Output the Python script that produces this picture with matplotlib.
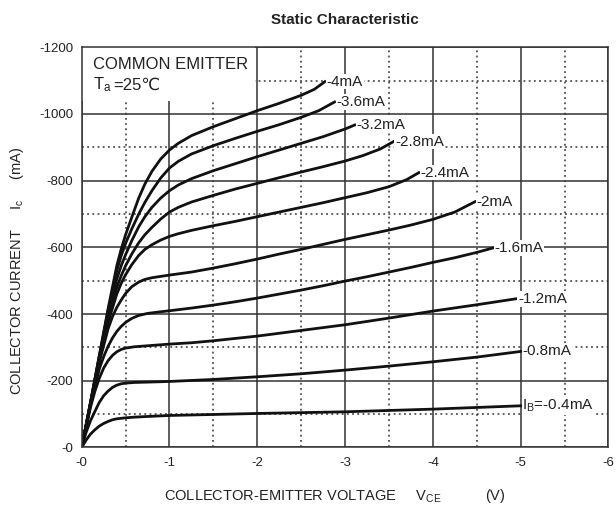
import matplotlib.pyplot as plt
from matplotlib.patches import Rectangle
from matplotlib.ticker import MultipleLocator

plt.rcParams['font.family'] = ['Liberation Sans', 'DejaVu Sans']

# base current labels and curves (V, mA), negative values
ib_labels = ['-4mA', '-3.6mA', '-3.2mA', '-2.8mA', '-2.4mA', '-2mA',
             '-1.6mA', '-1.2mA', '-0.8mA', r'$\mathregular{I_B}$=-0.4mA']

vce_4_0 = [0, -0.1, -0.2, -0.3, -0.4, -0.45, -0.5, -0.57, -0.65, -0.72, -0.8, -0.9, -1.0,
           -1.1, -1.25, -1.5, -1.75, -2.0, -2.25, -2.5, -2.65, -2.77]
ic_4_0 = [0, -135, -275, -415, -545, -595, -638, -690, -748, -790, -828, -865, -892,
          -912, -935, -962, -986, -1010, -1032, -1056, -1074, -1097]

vce_3_6 = [0, -0.1, -0.2, -0.3, -0.4, -0.45, -0.5, -0.57, -0.65, -0.72, -0.8, -0.9, -1.0,
           -1.1, -1.25, -1.5, -1.75, -2.0, -2.25, -2.5, -2.7, -2.88]
ic_3_6 = [0, -134, -272, -410, -530, -575, -612, -655, -700, -735, -770, -808, -838,
          -858, -880, -905, -927, -948, -968, -990, -1010, -1036]

vce_3_2 = [0, -0.1, -0.2, -0.3, -0.4, -0.45, -0.5, -0.57, -0.65, -0.72, -0.8, -0.9, -1.0,
           -1.1, -1.25, -1.5, -1.75, -2.0, -2.25, -2.5, -2.75, -3.0, -3.11]
ic_3_2 = [0, -133, -270, -400, -505, -545, -578, -620, -662, -692, -720, -748, -770,
          -787, -806, -830, -851, -872, -892, -912, -932, -955, -967]

vce_2_8 = [0, -0.1, -0.2, -0.3, -0.4, -0.45, -0.5, -0.57, -0.65, -0.72, -0.8, -0.9, -1.0,
           -1.1, -1.25, -1.5, -1.75, -2.0, -2.25, -2.5, -2.75, -3.0, -3.2, -3.4, -3.55]
ic_2_8 = [0, -132, -267, -390, -480, -515, -545, -580, -614, -638, -660, -685, -706,
          -720, -736, -756, -775, -792, -809, -826, -842, -859, -875, -895, -917]

vce_2_4 = [0, -0.1, -0.2, -0.3, -0.4, -0.45, -0.5, -0.57, -0.65, -0.72, -0.8, -0.9, -1.0,
           -1.1, -1.25, -1.5, -1.75, -2.0, -2.25, -2.5, -2.75, -3.0, -3.25, -3.5, -3.7, -3.84]
ic_2_4 = [0, -130, -262, -375, -460, -492, -518, -548, -576, -594, -608, -622, -633,
          -641, -651, -665, -678, -692, -706, -720, -734, -749, -764, -782, -803, -824]

vce_2_0 = [0, -0.1, -0.2, -0.3, -0.35, -0.4, -0.45, -0.5, -0.57, -0.65, -0.72, -0.8, -0.9,
           -1.0, -1.25, -1.5, -1.75, -2.0, -2.25, -2.5, -2.75, -3.0, -3.25, -3.5, -3.75,
           -4.0, -4.25, -4.48]
ic_2_0 = [0, -128, -255, -355, -392, -420, -442, -462, -482, -496, -504, -509, -513,
          -517, -526, -538, -551, -565, -580, -594, -609, -624, -638, -652, -667,
          -684, -706, -737]

vce_1_6 = [0, -0.1, -0.2, -0.25, -0.3, -0.35, -0.4, -0.45, -0.5, -0.57, -0.65, -0.75, -0.9,
           -1.0, -1.25, -1.5, -1.75, -2.0, -2.25, -2.5, -2.75, -3.0, -3.25, -3.5, -3.75,
           -4.0, -4.25, -4.5, -4.68]
ic_1_6 = [0, -125, -235, -272, -303, -328, -348, -363, -375, -387, -396, -402, -407,
          -410, -418, -427, -437, -448, -460, -472, -485, -499, -512, -526, -540,
          -555, -569, -585, -598]

vce_1_2 = [0, -0.1, -0.15, -0.2, -0.25, -0.3, -0.35, -0.4, -0.45, -0.5, -0.6, -0.75, -1.0,
           -1.25, -1.5, -2.0, -2.5, -3.0, -3.5, -4.0, -4.5, -4.95]
ic_1_2 = [0, -120, -168, -207, -238, -260, -276, -287, -294, -298, -302, -305, -310,
          -314, -320, -334, -351, -368, -388, -409, -428, -446]

vce_0_8 = [0, -0.05, -0.1, -0.15, -0.2, -0.25, -0.3, -0.35, -0.4, -0.45, -0.5, -0.6, -0.75,
           -1.0, -1.5, -2.0, -2.5, -3.0, -3.5, -4.0, -4.5, -5.0]
ic_0_8 = [0, -45, -80, -108, -135, -155, -169, -180, -187, -191, -193, -195, -196,
          -198, -204, -212, -221, -232, -244, -257, -271, -288]

vce_0_4 = [0, -0.05, -0.1, -0.15, -0.2, -0.25, -0.3, -0.35, -0.4, -0.5, -0.6, -0.75, -1.0,
           -1.5, -2.0, -3.0, -4.0, -5.0]
ic_0_4 = [0, -22, -40, -53, -64, -72, -78, -83, -86, -89, -91, -93, -96,
          -99, -102, -107, -115, -125]

curves = [(vce_4_0, ic_4_0), (vce_3_6, ic_3_6), (vce_3_2, ic_3_2), (vce_2_8, ic_2_8),
          (vce_2_4, ic_2_4), (vce_2_0, ic_2_0), (vce_1_6, ic_1_6), (vce_1_2, ic_1_2),
          (vce_0_8, ic_0_8), (vce_0_4, ic_0_4)]

x_ticks = [0, -1, -2, -3, -4, -5, -6]
y_ticks = [0, -200, -400, -600, -800, -1000, -1200]

fig = plt.figure(figsize=(6.16, 5.14), dpi=100)
ax = fig.add_axes([0.1326, 0.1294, 0.8552, 0.7786])

ax.set_xlim(0, -6)
ax.set_ylim(0, -1200)
ax.set_xticks(x_ticks)
ax.set_xticklabels(['-' + str(abs(v)) for v in x_ticks], fontsize=9.5, color='#222222')
ax.set_yticks(y_ticks)
ax.set_yticklabels(['-' + str(abs(v)) for v in y_ticks], fontsize=9.5, color='#222222')
ax.xaxis.set_minor_locator(MultipleLocator(0.5))
ax.yaxis.set_minor_locator(MultipleLocator(100))
ax.tick_params(which='both', length=0)
ax.tick_params(axis='x', pad=7)
ax.tick_params(axis='y', pad=6)
ax.grid(which='major', color='#333333', linewidth=1.1, linestyle='-')
ax.grid(which='minor', color='#333333', linewidth=1.1, linestyle=(0, (1.2, 2.2)))
ax.set_axisbelow(True)
for s in ax.spines.values():
    s.set_color('#333333')
    s.set_linewidth(1.1)
    s.set_zorder(5)

for (vx, iy), lab in zip(curves, ib_labels):
    ax.plot(vx, iy, color='#111111', linewidth=2, solid_joinstyle='round', zorder=3)
    ax.text(vx[-1] - 0.02, iy[-1], lab, fontsize=11, color='#222222', ha='left', va='center',
            bbox=dict(facecolor='white', edgecolor='none', pad=0.5), zorder=4)

# white area with the test conditions, it hides the grid behind it
ax.add_patch(Rectangle((0, -1200), -1.97, 162, facecolor='white', edgecolor='none', zorder=1.5))
ax.text(-0.13, -1136, 'COMMON EMITTER', fontsize=12, color='#222222', ha='left',
        va='baseline', zorder=4)
t_a = ax.text(-0.13, -1074, r'$\mathregular{T_a}$', fontsize=12, color='#222222', ha='left',
              va='baseline', zorder=4)
ax.annotate('=25℃', xy=(1, -1074), xycoords=(t_a, 'data'), xytext=(0.8, 0),
            textcoords='offset points', fontsize=12, color='#222222',
            ha='left', va='baseline', zorder=4)

ax.set_title('Static Characteristic', fontsize=11, fontweight='bold', color='#222222', pad=17)
ax.set_xlabel('COLLECTOR-EMITTER VOLTAGE     $\\mathregular{V_{CE}}$           (V)',
              fontsize=10.5, color='#222222', labelpad=13)
ax.xaxis.label.set_x(0.4806)
ax.set_ylabel('COLLECTOR CURRENT     $\\mathregular{I_c}$     (mA)', fontsize=10.5,
              color='#222222')
ax.yaxis.set_label_coords(-0.106, 0.44)

fig.savefig('out.png', dpi=100)
